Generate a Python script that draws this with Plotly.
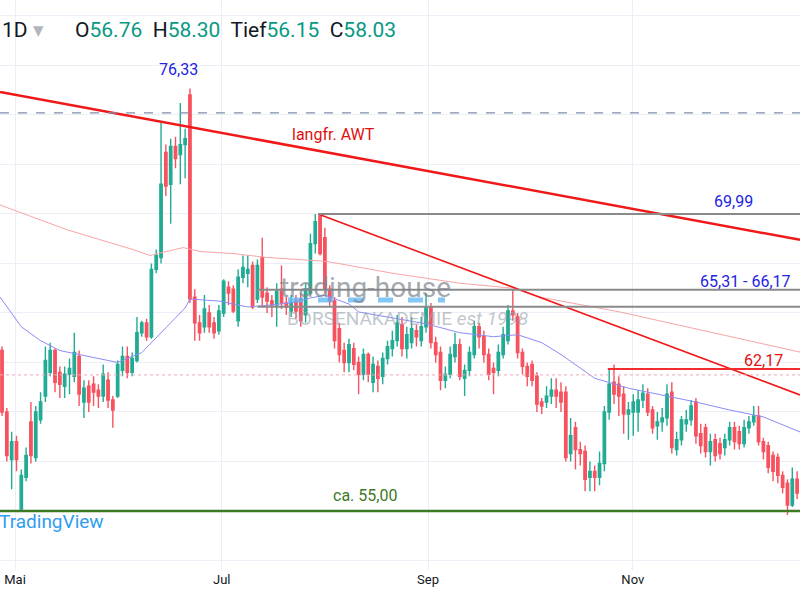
import plotly.graph_objects as go

opens = [63.1,60.0,57.6,58.5,55.1,56.7,59.5,57.7,59.6,60.8,
62.0,63.1,62.0,61.3,61.9,61.8,62.8,60.5,61.3,61.4,
61.1,60.8,61.6,60.6,60.8,62.1,62.8,62.0,62.6,64.0,
64.5,63.8,67.2,67.8,73.1,71.5,73.4,73.0,73.5,76.0,
65.8,64.5,64.3,65.0,64.5,64.1,65.0,66.3,66.2,64.6,
66.8,67.0,67.4,65.7,67.8,66.0,65.6,65.4,66.2,65.5,
65.1,65.6,65.7,64.9,66.0,68.5,69.9,68.8,66.2,65.6,
64.2,63.1,62.5,63.2,62.5,61.9,62.9,61.5,62.3,61.8,
62.7,63.2,63.6,64.4,63.2,63.5,64.1,63.6,64.3,65.3,
63.5,63.0,61.6,61.9,62.8,63.4,61.7,62.1,62.9,64.3,
63.8,62.9,62.2,62.1,62.9,63.6,65.1,64.8,63.0,62.3,
62.4,61.8,60.5,60.5,60.8,61.1,61.0,61.0,57.9,59.2,
58.1,58.0,56.7,57.0,56.7,57.4,60.0,61.5,61.4,60.9,
59.9,60.0,60.0,60.6,60.9,60.1,59.3,59.5,59.7,61.0,
58.1,58.6,59.4,59.6,60.5,58.9,59.2,58.0,58.6,58.4,
58.2,58.6,59.2,59.0,58.4,59.2,59.5,59.8,58.5,58.3,
57.8,57.7,56.8,56.4,55.3,56.6]
closes = [60.0,57.8,58.5,57.6,56.8,57.8,57.8,60.0,60.5,62.6,
63.1,61.5,61.4,61.9,62.2,63.0,60.9,61.2,60.5,61.0,
60.8,61.9,60.6,60.1,62.4,62.8,62.0,62.7,64.0,64.5,
63.8,67.2,67.9,71.5,71.4,73.4,72.8,73.5,73.8,65.7,
64.5,64.0,65.2,64.3,64.0,65.1,66.6,66.0,65.1,66.8,
67.3,67.2,65.3,67.4,65.8,65.6,65.4,66.1,65.5,65.3,
65.5,65.1,64.6,66.2,68.5,69.6,68.0,66.2,65.6,63.6,
62.9,62.5,63.4,62.4,61.9,62.9,61.9,62.4,61.7,62.7,
63.3,63.6,64.5,63.2,63.9,64.2,63.8,64.3,65.3,63.5,
62.9,61.6,61.9,62.9,63.4,61.8,62.1,63.0,64.3,63.8,
62.9,61.9,62.0,63.0,63.9,65.1,64.9,63.0,62.3,61.8,
61.6,60.4,60.3,60.8,61.1,60.8,60.5,57.7,58.8,58.1,
57.9,56.6,57.0,56.7,57.4,60.0,61.4,60.9,60.8,59.9,
60.1,60.5,60.6,60.95,60.0,59.2,59.5,59.7,60.9,58.2,
58.6,59.6,59.6,60.3,58.8,58.3,58.0,58.5,57.8,57.9,
58.6,59.2,58.5,58.4,59.2,59.5,59.8,58.5,58.0,57.2,
57.0,56.8,56.2,55.3,56.6,55.9]
highs = [63.3,60.2,59.0,58.8,57.1,58.2,60.5,60.3,61.0,63.3,
63.5,63.2,62.3,62.3,62.7,64.0,63.1,61.6,61.6,61.8,
61.4,62.4,62.0,60.8,62.6,63.3,63.3,63.0,64.8,64.6,
64.7,67.5,68.2,74.6,73.5,73.8,73.9,75.6,74.3,76.33,
66.2,64.9,65.9,65.4,64.8,65.4,66.7,66.6,66.4,67.2,
67.9,67.9,67.6,67.7,68.8,66.3,65.9,66.5,67.4,65.8,
65.9,65.9,66.0,66.5,69.0,70.0,70.0,69.3,66.4,65.8,
64.5,63.5,63.7,63.5,62.8,63.2,63.0,62.8,62.6,63.0,
63.6,64.1,64.9,64.8,64.3,64.8,64.4,64.8,66.0,65.5,
63.8,63.3,62.3,63.3,64.0,63.7,62.4,63.3,64.6,64.5,
64.1,63.2,62.5,63.4,64.3,65.4,66.2,65.0,63.2,62.5,
62.6,62.0,60.7,61.3,61.7,61.7,61.5,61.3,59.7,59.5,
58.5,58.3,57.5,57.3,58.0,60.3,62.2,62.4,61.8,61.3,
60.5,60.9,61.1,61.4,61.2,60.3,60.0,60.2,61.4,61.5,
59.0,59.8,60.1,60.6,60.7,59.4,59.4,58.9,58.9,58.7,
58.9,59.5,59.5,59.3,59.6,59.8,60.3,60.3,58.7,58.5,
58.0,57.9,57.0,56.6,57.2,57.0]
lows = [59.8,57.5,56.1,57.0,55.0,56.5,57.4,57.5,59.4,60.5,
61.8,61.0,60.7,60.7,60.9,61.5,60.3,59.7,60.0,60.3,
60.2,60.5,60.2,59.2,60.7,61.8,61.7,61.8,62.5,63.8,
63.6,63.7,67.0,67.5,70.9,69.5,72.3,71.5,71.8,65.5,
63.6,63.6,64.0,64.0,63.7,63.9,64.8,65.4,65.0,64.3,
66.5,66.3,65.2,65.5,65.4,65.0,64.8,64.3,65.2,64.9,
64.8,64.7,64.3,64.5,65.9,68.0,67.9,66.0,65.3,63.2,
62.5,62.0,62.0,62.1,60.9,61.6,61.5,61.0,61.0,61.4,
62.4,62.8,63.3,62.8,62.7,63.2,63.3,63.3,64.0,63.2,
62.5,61.1,61.2,61.7,62.5,61.6,60.8,61.8,62.7,63.2,
62.5,61.6,60.9,61.8,62.7,63.4,64.6,62.7,61.9,61.3,
61.3,60.0,59.9,60.2,60.4,60.2,60.0,57.5,57.5,57.1,
57.3,56.0,56.0,56.0,56.3,57.0,59.6,60.4,59.8,58.9,
58.6,58.8,59.0,60.2,59.8,58.9,58.6,59.0,59.3,57.9,
57.8,58.3,59.0,59.3,58.4,57.9,57.7,57.3,57.5,57.6,
57.8,58.3,58.1,58.1,58.2,58.9,59.3,58.3,57.6,56.9,
56.5,56.4,55.9,54.8,55.2,55.6]
bar_index = list(range(len(closes)))

ma50_x = [-0.4,4,8,12,16,20,24,29,33,36,38,39,45,51,60,64,67,72,74,81,88,95,102,107,112,116,123,130,137,144,151,158,166]
ma50_y = [65.8,64.3,63.6,63.1,62.9,62.7,62.5,63.0,64.0,64.8,65.25,65.7,65.6,65.3,65.5,65.75,65.9,65.45,65.05,64.75,64.45,64.0,63.8,63.9,63.5,62.9,61.7,61.2,60.85,60.5,60.1,59.75,58.95]
ma200_x = [-0.4,6.4,13.5,20.3,27.2,30.7,34.2,37.6,41.1,47.9,55,67.4,81.1,95,106,111.6,128.2,145.4,166]
ma200_y = [70.45,69.85,69.2,68.7,68.2,67.9,68.1,68.3,68.1,68.0,67.8,67.6,67.0,66.5,66.25,65.8,65.05,64.1,63.0]

month_pos = [2.7,45.6,88.4,130.9]
month_labels = ["Mai","Jul","Sep","Nov"]

awt_x = [-0.4,165.6]; awt_y = [76.16,68.69]
tl_x = [65.6,165.6]; tl_y = [69.99,60.86]
XMIN, XMAX = -0.42, 165.6

GREEN = "#22ab94"; RED = "#f7525f"

fig = go.Figure()
fig.add_trace(go.Scatter(x=ma200_x, y=ma200_y, mode="lines", line=dict(color="#f8a5a5", width=1), hoverinfo="skip"))
fig.add_trace(go.Scatter(x=ma50_x, y=ma50_y, mode="lines", line=dict(color="#8c8cf5", width=1), hoverinfo="skip"))
fig.add_trace(go.Candlestick(x=bar_index, open=opens, high=highs, low=lows, close=closes,
    increasing=dict(line=dict(color=GREEN, width=1.4), fillcolor=GREEN),
    decreasing=dict(line=dict(color=RED, width=1.4), fillcolor=RED), whiskerwidth=0))

def hline(x0, x1, y, color, width, dash="solid"):
    fig.add_shape(type="line", x0=x0, x1=x1, y0=y, y1=y, xref="x", yref="y", line=dict(color=color, width=width, dash=dash))

hline(XMIN, XMAX, 75.1, "#7f8fa8", 1.2, "dash")
hline(XMIN, XMAX, 61.87, "#f3a6b8", 1, "dot")
hline(65.6, XMAX, 69.99, "#8a8a8a", 2)
hline(53.0, XMAX, 66.17, "#8a8a8a", 2)
hline(53.0, XMAX, 65.31, "#8a8a8a", 2)
hline(125.7, XMAX, 62.17, "#f22c2c", 2)
hline(XMIN, XMAX, 55.0, "#3d7a26", 2.5)
fig.add_trace(go.Scatter(x=awt_x, y=awt_y, mode="lines", line=dict(color="#f01818", width=2.5), hoverinfo="skip"))
fig.add_trace(go.Scatter(x=tl_x, y=tl_y, mode="lines", line=dict(color="#f01818", width=1.6), hoverinfo="skip"))

def ann(x, y, text, color, size, xanchor="center", **kw):
    fig.add_annotation(x=x, y=y, xref="paper", yref="paper", text=text, showarrow=False,
        font=dict(color=color, size=size, family="Roboto, Arial"), xanchor=xanchor, yanchor="middle", **kw)

def px(xp): return xp/800
def py(yp): return 1 - yp/570

fig.add_shape(type="line", xref="paper", yref="paper", x0=px(288), x1=px(445), y0=py(300), y1=py(300),
              line=dict(color="rgba(90,180,245,0.75)", width=5, dash="dash"))

ann(px(178), py(70), "76,33", "#2323e0", 16)
ann(px(333), py(135), "langfr. AWT", "#e01010", 16)
ann(px(733), py(201), "69,99", "#2323e0", 16)
ann(px(698), py(281), "65,31 - 66,17", "#2323e0", 16, xanchor="left")
ann(px(763), py(360), "62,17", "#e01010", 16)
ann(px(365), py(495), "ca. 55,00", "#3d7a26", 16)
ann(px(365), py(287), "trading-house", "rgba(120,130,140,0.7)", 28)
ann(px(285), py(318), "BÖRSENAKADEMIE <i>est 1998</i>", "rgba(150,160,170,0.6)", 19, xanchor="left")
ann(px(106), py(521), "TradingView", "#2f9ef0", 19, xanchor="right")
g = "#089981"
ann(0, py(30),
    "1D <span style='color:#b2b5be'>▾</span>      O<span style='color:%s'>56.76</span>  H<span style='color:%s'>58.30</span>  Tief<span style='color:%s'>56.15</span>  C<span style='color:%s'>58.03</span>" % (g, g, g, g),
    "#131722", 21, xanchor="left")

fig.update_layout(width=800, height=600, margin=dict(l=0, r=0, t=0, b=30),
    paper_bgcolor="white", plot_bgcolor="white", showlegend=False,
    xaxis=dict(range=[XMIN, XMAX], rangeslider=dict(visible=False), tickvals=month_pos, ticktext=month_labels,
               showgrid=True, gridcolor="#eceef5", zeroline=False, tickfont=dict(size=13, color="#131722", family="Roboto, Arial"),
               showline=False, ticks=""),
    yaxis=dict(range=[52.02, 80.8], showticklabels=False, dtick=2.5, tick0=55, showgrid=True,
               gridcolor="#eceef5", zeroline=False))
fig.write_html("out.html", config={"displayModeBar": False},
               post_script="document.body.style.margin='0';document.body.style.overflow='hidden';")
